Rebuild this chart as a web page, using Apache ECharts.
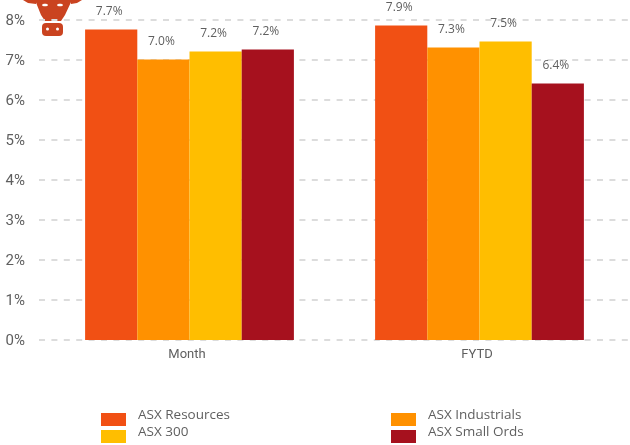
<!DOCTYPE html>
<html><head><meta charset="utf-8">
<style>html,body{margin:0;padding:0;background:#fff}#c{width:630px;height:445px}</style>
<script src="https://cdn.jsdelivr.net/npm/echarts@6/dist/echarts.min.js"></script>
</head><body><div id="c"></div>
<script>
const categories = ['Month', 'FYTD'];
const yTicks = [0, 1, 2, 3, 4, 5, 6, 7, 8];
const seriesNames = ['ASX Resources', 'ASX Industrials', 'ASX 300', 'ASX Small Ords'];
const resources = [7.75, 7.85];
const industrials = [7.0, 7.3];
const asx300 = [7.2, 7.45];
const smallOrds = [7.25, 6.4];
const resourcesLabels = ['7.7%', '7.9%'];
const industrialsLabels = ['7.0%', '7.3%'];
const asx300Labels = ['7.2%', '7.5%'];
const smallOrdsLabels = ['7.2%', '6.4%'];
const colors = ['#F15014', '#FF9100', '#FFBE00', '#A6111E'];

const values = [resources, industrials, asx300, smallOrds];
const labels = [resourcesLabels, industrialsLabels, asx300Labels, smallOrdsLabels];
const textColor = '#5f5f5f';
const bull = '#CA4320';

const chart = echarts.init(document.getElementById('c'), null, {renderer: 'canvas'});
const legendText = {
  color: textColor,
  rich: {a: {color: textColor, fontFamily: 'Open Sans', fontSize: 13.5, padding: [0, 0, 9, 7]}}
};
const legendBase = {orient: 'vertical', itemWidth: 25, itemHeight: 13, itemGap: -1, padding: 0,
  textStyle: legendText, icon: 'rect', selectedMode: false, top: 408, formatter: n => '{a|' + n + '}'};
chart.setOption({
  animation: false,
  backgroundColor: '#fff',
  grid: [
    {left: 39, right: 0, top: 19.5, bottom: 105},
    {left: 44.5, right: 5.5, top: 19.5, bottom: 105},
    {left: 39, right: 0, top: 21, bottom: 104}
  ],
  xAxis: [
    {gridIndex: 0, type: 'category', data: categories, show: false},
    {gridIndex: 1, type: 'category', data: categories,
     axisLine: {show: false}, axisTick: {show: false},
     axisLabel: {color: textColor, fontFamily: 'Roboto', fontSize: 13, margin: 8, padding: [0, 5, 0, 0]}},
    {gridIndex: 2, type: 'category', data: categories, show: false}
  ],
  yAxis: [
    {gridIndex: 0, type: 'value', min: 0, max: 8, interval: 1,
     axisLine: {show: false}, axisTick: {show: false}, axisLabel: {show: false},
     splitLine: {show: true, lineStyle: {color: '#dcdcdc', width: 2, type: [6, 6.4]}}},
    {gridIndex: 1, type: 'value', min: 0, max: 8, interval: 1, show: false},
    {gridIndex: 2, type: 'value', min: 0, max: 8, interval: 1,
     axisLine: {show: false}, axisTick: {show: false}, splitLine: {show: false},
     axisLabel: {color: textColor, fontFamily: 'Roboto', fontSize: 15, margin: 14,
       formatter: v => yTicks.includes(v) ? v + '%' : ''}}
  ],
  legend: [
    Object.assign({data: [seriesNames[0], seriesNames[2]], left: 101}, legendBase),
    Object.assign({data: [seriesNames[1], seriesNames[3]], left: 391}, legendBase)
  ],
  series: seriesNames.map((name, i) => ({
    name, type: 'bar', xAxisIndex: 1, yAxisIndex: 1,
    data: values[i], barWidth: 52.2, barGap: 0,
    itemStyle: {color: colors[i]},
    label: {show: true, position: 'top', distance: 12, offset: [-2, 0], color: textColor,
      fontFamily: 'Open Sans', fontSize: 12,
      formatter: p => labels[i][p.dataIndex]}
  })),
  graphic: [
    {type: 'polygon', shape: {points: [[35,0],[72,0],[65,15],[61,21],[45,21],[41,15]]}, style: {fill: bull}},
    {type: 'polygon', shape: {points: [[23,0],[36,0],[36,4],[28,3]]}, style: {fill: bull}},
    {type: 'polygon', shape: {points: [[71,0],[82,0],[77,3],[71,4]]}, style: {fill: bull}},
    {type: 'rect', shape: {x: 42, y: 23, width: 21, height: 13, r: 4}, style: {fill: bull}},
    {type: 'circle', shape: {cx: 47.5, cy: 29, r: 1.5}, style: {fill: '#fff'}},
    {type: 'circle', shape: {cx: 57.5, cy: 29, r: 1.5}, style: {fill: '#fff'}},
    {type: 'ellipse', shape: {cx: 45, cy: 5, rx: 3, ry: 1.3}, style: {fill: '#fff'}},
    {type: 'ellipse', shape: {cx: 60, cy: 5, rx: 3, ry: 1.3}, style: {fill: '#fff'}}
  ]
});
</script></body></html>
